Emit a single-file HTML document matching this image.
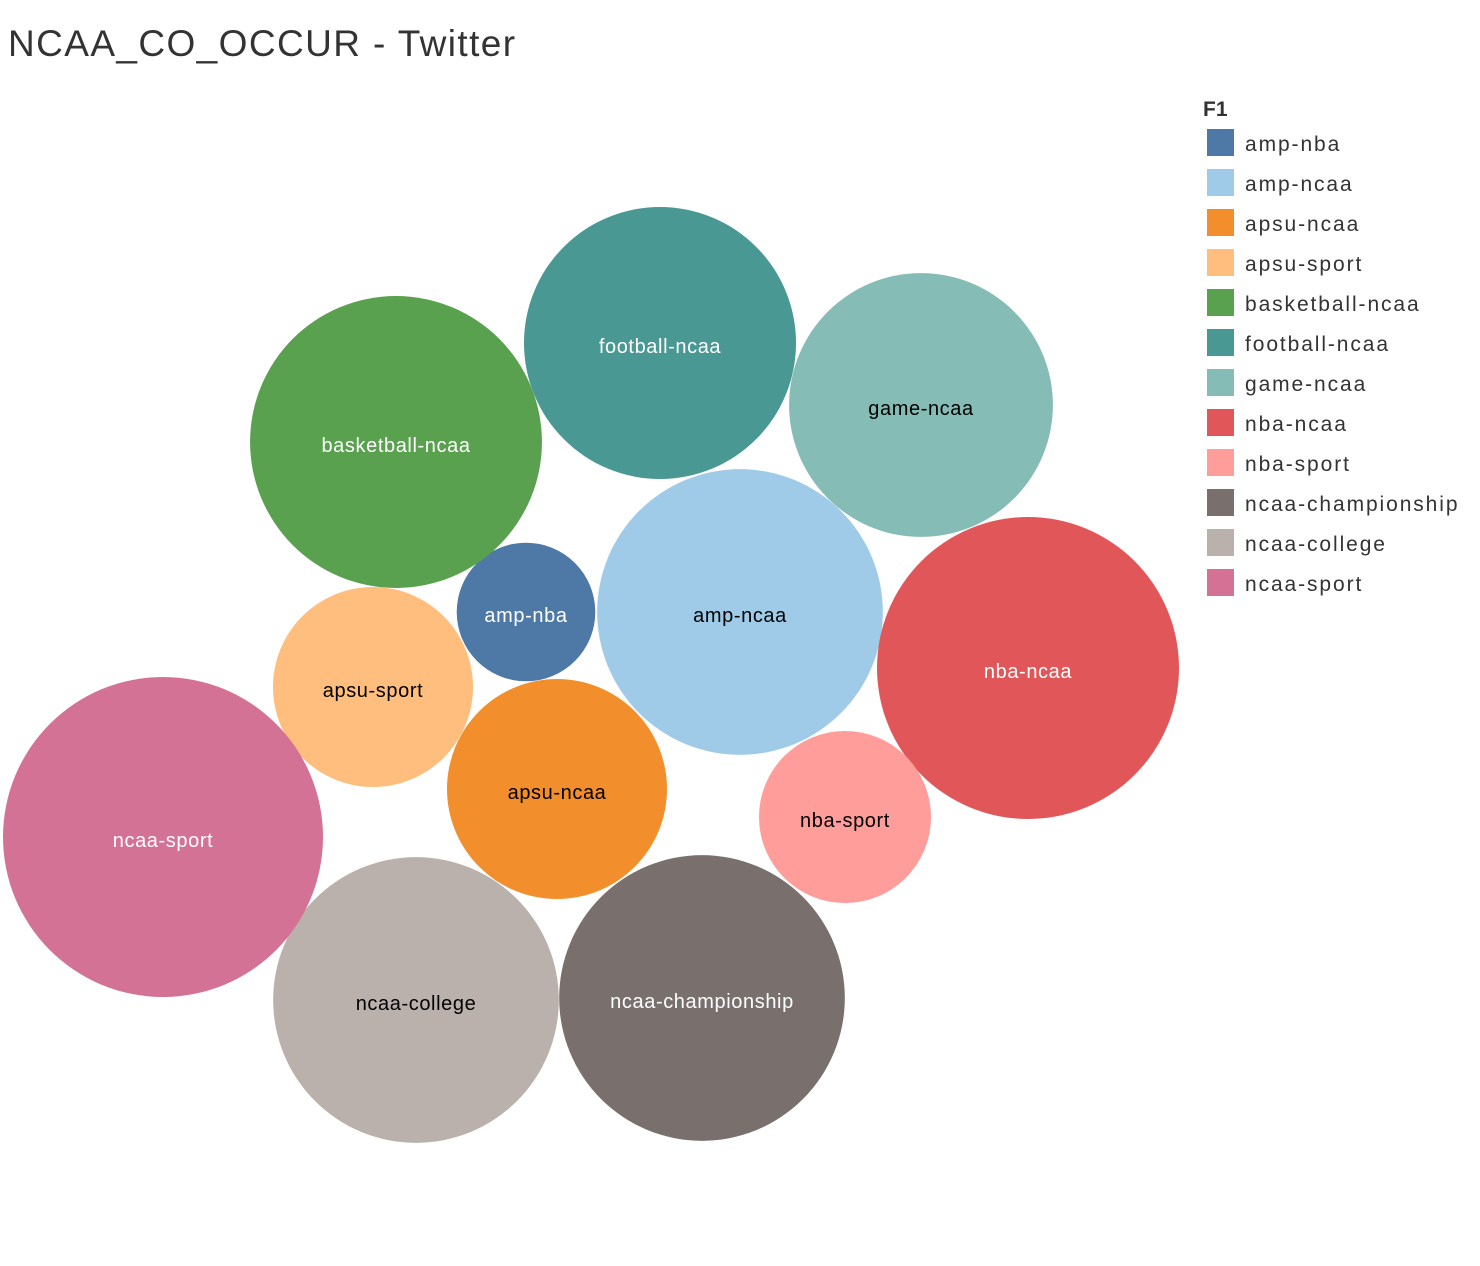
<!DOCTYPE html>
<html>
<head>
<meta charset="utf-8">
<style>
  html,body{margin:0;padding:0;background:#fff;}
  body{width:1480px;height:1266px;overflow:hidden;font-family:"Liberation Sans","DejaVu Sans",sans-serif;}
  svg{display:block;}
</style>
</head>
<body>
<svg id="chart" width="1480" height="1266" viewBox="0 0 1480 1266">
  <text x="8" y="56" font-size="37" fill="#333" letter-spacing="1.4">NCAA_CO_OCCUR - Twitter</text>
  <g id="bubbles"></g>
  <g id="legend">
    <text x="1203" y="116" font-size="21" font-weight="bold" fill="#333">F1</text>
  </g>
</svg>
<script>
const categories = ["amp-nba","amp-ncaa","apsu-ncaa","apsu-sport","basketball-ncaa","football-ncaa","game-ncaa","nba-ncaa","nba-sport","ncaa-championship","ncaa-college","ncaa-sport"];
const values = [4.8, 20.4, 12.1, 10.0, 21.3, 18.5, 17.4, 22.8, 7.4, 20.4, 20.4, 25.6];
const colors = ["#4e79a7","#a0cbe8","#f28e2b","#ffbe7d","#59a14f","#499894","#86bcb6","#e15759","#ff9d9a","#79706e","#bab0ac","#d37295"];
const labelColors = ["#fff","#000","#000","#000","#fff","#fff","#000","#fff","#000","#fff","#000","#fff"];
// layout (packing result), not data
const layoutX = [526,740,557,373,396,660,921,1028,845,702,416,163];
const layoutY = [612,612,789,687,442,343,405,668,817,998,1000,837];

const NS = "http://www.w3.org/2000/svg";
function rScale(v){ return Math.sqrt(v * 1000); }

const bg = document.getElementById("bubbles");
categories.forEach((c, i) => {
  const circ = document.createElementNS(NS, "circle");
  circ.setAttribute("cx", layoutX[i]);
  circ.setAttribute("cy", layoutY[i]);
  circ.setAttribute("r", rScale(values[i]));
  circ.setAttribute("fill", colors[i]);
  
  
  bg.appendChild(circ);
  const t = document.createElementNS(NS, "text");
  t.setAttribute("x", layoutX[i]);
  t.setAttribute("y", layoutY[i] + 10);
  t.setAttribute("text-anchor", "middle");
  t.setAttribute("font-size", "20");
  t.setAttribute("letter-spacing", "0.6");
  t.setAttribute("fill", labelColors[i]);
  t.textContent = c;
  
  
  bg.appendChild(t);
});

const lg = document.getElementById("legend");
categories.forEach((c, i) => {
  const y = 129 + i * 40;
  const r = document.createElementNS(NS, "rect");
  r.setAttribute("x", 1207);
  r.setAttribute("y", y);
  r.setAttribute("width", 27);
  r.setAttribute("height", 27);
  r.setAttribute("fill", colors[i]);
  
  
  lg.appendChild(r);
  const t = document.createElementNS(NS, "text");
  t.setAttribute("x", 1245);
  t.setAttribute("y", y + 22);
  t.setAttribute("font-size", "21");
  t.setAttribute("letter-spacing", "1.9");
  t.setAttribute("fill", "#333");
  t.textContent = c;
  
  
  lg.appendChild(t);
});
</script>
</body>
</html>
